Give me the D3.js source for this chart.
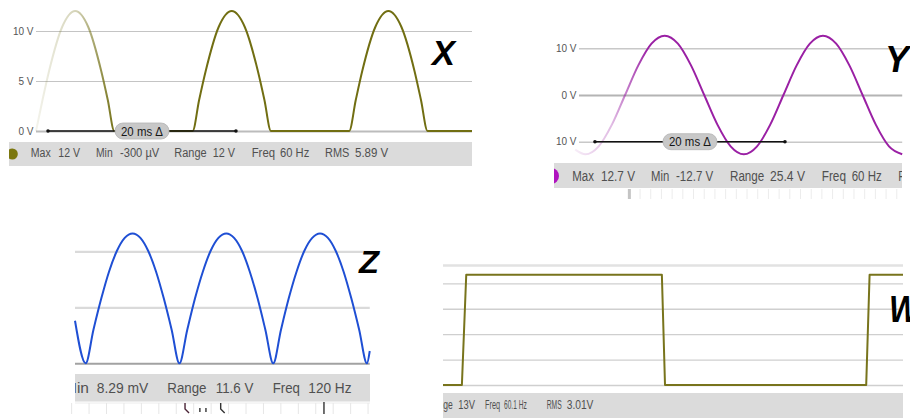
<!DOCTYPE html>
<html>
<head>
<meta charset="utf-8">
<script src="https://cdn.jsdelivr.net/npm/d3@7"></script>
<style>
body { margin: 0; background: #fff; }
svg { display: block; font-family: "Liberation Sans", Arial, sans-serif; }
</style>
</head>
<body>
<svg id="chart"></svg>
<script>
// ---- data: [time ms, volts]
const xWave = [
  [0,0],[0.69,3.1],[1.39,6],[2.78,10.4],[4.17,12],[5.56,10.4],[6.94,6],[7.64,3.1],[8.33,0],
  [16.67,0],[17.36,3.1],[18.06,6],[19.44,10.4],[20.83,12],[22.22,10.4],[23.61,6],[24.31,3.1],[25.0,0],
  [33.33,0],[34.03,3.1],[34.72,6],[36.11,10.4],[37.5,12],[38.89,10.4],[40.28,6],[40.97,3.1],[41.67,0],
  [46.4,0]
];
const yWave = [
  [-0.4,-11.7],[0.68,-12.7],[2.07,-11.0],[3.46,-6.35],[4.85,0],[6.24,6.35],[7.63,11.0],[9.02,12.7],
  [10.41,11.0],[11.79,6.35],[13.18,0],[14.57,-6.35],[15.96,-11.0],[17.35,-12.7],[18.74,-11.0],
  [20.13,-6.35],[21.52,0],[22.91,6.35],[24.3,11.0],[25.68,12.7],[27.07,11.0],[28.46,6.35],
  [29.85,0],[31.24,-6.35],[32.63,-11.0],[34.02,-12.7]
];
const zWave = [
  [0,3.8],[0.95,0],[1.64,3.0],[2.34,5.8],[3.03,8.2],[3.73,10.05],[4.42,11.2],[5.12,11.6],
  [5.81,11.2],[6.5,10.05],[7.2,8.2],[7.89,5.8],[8.59,3.0],[9.28,0],[9.98,3.0],[10.67,5.8],
  [11.37,8.2],[12.06,10.05],[12.75,11.2],[13.45,11.6],[14.14,11.2],[14.84,10.05],[15.53,8.2],
  [16.23,5.8],[16.92,3.0],[17.62,0],[18.31,3.0],[19.0,5.8],[19.7,8.2],[20.39,10.05],[21.09,11.2],
  [21.78,11.6],[22.48,11.2],[23.17,10.05],[23.87,8.2],[24.56,5.8],[25.26,3.0],[25.95,0],[26.2,1.1]
];
const wWave = [[0,0],[0.78,0],[0.96,13],[9.04,13],[9.17,0],[17.48,0],[17.62,13],[19.0,13]];

const xGrid = [0, 5, 10], xGridLabels = ["0 V", "5 V", "10 V"];
const yGrid = [-10, 0, 10], yGridLabels = ["10 V", "0 V", "10 V"];
const zGrid = [0, 5, 10];
const wGrid = [0, 3, 6, 9, 12, 14.16];

const xStatLabels = ["Max", "Min", "Range", "Freq", "RMS"];
const xStatValues = ["12 V", "-300 µV", "12 V", "60 Hz", "5.89 V"];
const yStatLabels = ["Max", "Min", "Range", "Freq", "RMS"];
const yStatValues = ["12.7 V", "-12.7 V", "25.4 V", "60 Hz"];
const zStatLabels = ["Min", "Range", "Freq"];
const zStatValues = ["8.29 mV", "11.6 V", "120 Hz"];
const wStatLabels = ["Range", "Freq", "RMS"];
const wStatValues = ["13V", "60.1 Hz", "3.01V"];

const markerSpanX = [1.28, 21.28], markerSpanY = [1.68, 21.68];
const markerText = "20 ms Δ";
const zCursorTimes = [9.78, 11.1, 11.64, 12.95, 22.13];

// ---- layout
const panels = [
  { id: "x", title: "X", wave: xWave, color: "#716e12", curve: d3.curveMonotoneX,
    xDomain: [0, 46.4], xRange: [36, 472], yDomain: [0, 10], yRange: [131, 31],
    grid: xGrid, gridLabels: xGridLabels, labelSize: 12.5,
    gridStyle: d => d === 0 ? ["#bcbcbc", 1.8] : ["#c4c4c4", 1.2],
    fade: [36, 116], marker: markerSpanX, markerLevel: 0,
    bar: [9, 142, 463, 24], dot: [12.3, 154, 5.5, "#7b770e"], fs: 13.5, base: 157.3,
    labels: xStatLabels, values: xStatValues,
    labelPos: [[30.7,20],[96,16.7],[174.3,32.3],[251.7,23.3],[325,24.3]],
    valuePos: [[58.3,21.7],[120,39.3],[212.7,22.3],[280,29.3],[355,33.3]],
    letter: [432, 64.5, 36, 23] },
  { id: "y", title: "Y", wave: yWave, color: "#9a20a4", curve: d3.curveMonotoneX,
    xDomain: [0, 34.02], xRange: [579, 902.2], yDomain: [-10, 10], yRange: [141.7, 48.3],
    grid: yGrid, gridLabels: yGridLabels, labelSize: 12.5,
    gridStyle: d => d === 0 ? ["#b4b4b4", 2.2] : ["#c8c8c8", 1.4],
    fade: [575, 648], marker: markerSpanY, markerLevel: -10,
    bar: [554, 163, 348, 25], dot: [551, 176, 8, "#b012bf"], fs: 14.5, base: 181,
    labels: yStatLabels, values: yStatValues,
    labelPos: [[572.3,21.7],[651,18.3],[730,34.3],[821.7,24.3],[898.3,24.3]],
    valuePos: [[601,34],[676,37.3],[770,35],[851.7,30]],
    letter: [885, 71.5, 37, 24] },
  { id: "z", title: "Z", wave: zWave, color: "#1f4fd4", curve: d3.curveMonotoneX,
    xDomain: [0, 26.2], xRange: [75, 369.75], yDomain: [0, 10], yRange: [363.3, 251.3],
    grid: zGrid, gridStyle: d => d === 0 ? ["#a2a2a2", 2] : ["#dadada", 2.2],
    bar: [75, 374, 295, 27.7], fs: 14.5, base: 393.3,
    labels: zStatLabels, values: zStatValues,
    labelPos: [[64,25],[167.3,39.3],[272.7,27.3]],
    valuePos: [[96.7,51.7],[215.7,37.7],[308.3,43.3]],
    letter: [359, 273.3, 32, 20] },
  { id: "w", title: "W", wave: wWave, color: "#78741c", curve: d3.curveLinear,
    xDomain: [0, 19.0], xRange: [443, 903], yDomain: [0, 12], yRange: [385, 283.3],
    grid: wGrid, gridStyle: d => d > 13 ? ["#e2e2e2", 2.6] : ["#cfcfcf", 1.3],
    bar: [443, 393, 460, 30], fs: 13, base: 409,
    labels: wStatLabels, values: wStatValues,
    labelPos: [[427.5,25.2],[485,15],[546.7,15]],
    valuePos: [[458.3,16.7],[504,22.7],[566.7,26.7]],
    letter: [889, 321.7, 37, 30] }
];

const svg = d3.select("#chart").attr("width", 910).attr("height", 418);
const defs = svg.append("defs");

// squeeze a text horizontally so it spans exactly `w` pixels
function fitText(sel, txt, x, y, w) {
  sel.text(txt);
  const nat = sel.node().getComputedTextLength() || w;
  sel.attr("transform", `translate(${x},${y}) scale(${w / nat},1)`);
  return sel;
}

function drawPanel(p) {
  const g = svg.append("g").attr("class", "panel-" + p.id);
  const x = d3.scaleLinear().domain(p.xDomain).range(p.xRange);
  const y = d3.scaleLinear().domain(p.yDomain).range(p.yRange);
  p.xScale = x;

  // gridlines + tick labels
  const axis = d3.axisLeft(y)
    .tickValues(p.grid)
    .tickSize(-(p.xRange[1] - p.xRange[0]))
    .tickPadding(2.5)
    .tickFormat((d, i) => p.gridLabels ? p.gridLabels[i] : "");
  const ag = g.append("g")
    .attr("transform", `translate(${p.xRange[0]},0)`)
    .attr("font-family", null).attr("font-size", p.labelSize || 12)
    .call(axis);
  ag.select(".domain").remove();
  ag.selectAll(".tick line")
    .attr("stroke", d => p.gridStyle(d)[0])
    .attr("stroke-width", d => p.gridStyle(d)[1]);
  ag.selectAll(".tick text").attr("fill", "#555");

  // trace
  let stroke = p.color;
  if (p.fade) {
    const grad = defs.append("linearGradient").attr("id", "fade-" + p.id)
      .attr("gradientUnits", "userSpaceOnUse")
      .attr("x1", p.fade[0]).attr("x2", p.fade[1]).attr("y1", 0).attr("y2", 0);
    grad.append("stop").attr("offset", 0).attr("stop-color", p.color).attr("stop-opacity", 0.08);
    grad.append("stop").attr("offset", 0.5).attr("stop-color", p.color).attr("stop-opacity", 0.3);
    grad.append("stop").attr("offset", 1).attr("stop-color", p.color).attr("stop-opacity", 1);
    stroke = `url(#fade-${p.id})`;
  }
  const line = d3.line().x(d => x(d[0])).y(d => y(d[1])).curve(p.curve);
  g.append("path").datum(p.wave)
    .attr("d", line)
    .attr("fill", "none")
    .attr("stroke", stroke)
    .attr("stroke-width", 2)
    .attr("stroke-linejoin", "round");

  // 20 ms delta marker
  if (p.marker) {
    const mx0 = x(p.marker[0]), mx1 = x(p.marker[1]), my = y(p.markerLevel);
    const mg = g.append("g");
    mg.append("line").attr("x1", mx0).attr("x2", mx1).attr("y1", my).attr("y2", my)
      .attr("stroke", "#111").attr("stroke-width", 1.5);
    mg.selectAll("circle").data([mx0, mx1]).join("circle")
      .attr("cx", d => d).attr("cy", my).attr("r", 1.8).attr("fill", "#111");
    const cx = (mx0 + mx1) / 2;
    mg.append("rect").attr("x", cx - 27).attr("y", my - 8).attr("width", 54).attr("height", 16)
      .attr("rx", 8).attr("fill", "#c8c8c8").attr("stroke", "#b4b4b4").attr("stroke-width", 0.8);
    fitText(mg.append("text").attr("font-size", 13.5).attr("fill", "#161616"),
      markerText, cx - 21, my + 4.5, 42);
  }

  // stats bar
  const [bx, by, bw, bh] = p.bar;
  defs.append("clipPath").attr("id", "clip-" + p.id)
    .append("rect").attr("x", bx).attr("y", by).attr("width", bw).attr("height", bh);
  const sb = g.append("g").attr("clip-path", `url(#clip-${p.id})`);
  sb.append("rect").attr("x", bx).attr("y", by).attr("width", bw).attr("height", bh)
    .attr("fill", "#dbdbdb");
  if (p.dot) {
    sb.append("circle").attr("cx", p.dot[0]).attr("cy", p.dot[1]).attr("r", p.dot[2])
      .attr("fill", p.dot[3]);
  }
  const addText = (txt, pos) =>
    fitText(sb.append("text").attr("font-size", p.fs).attr("fill", "#505050"),
      txt, pos[0], p.base, pos[1]);
  p.labels.forEach((t, i) => addText(t, p.labelPos[i]));
  p.values.forEach((t, i) => addText(t, p.valuePos[i]));

  // big channel letter
  fitText(g.append("text")
    .attr("font-size", p.letter[2]).attr("font-weight", "bold").attr("font-style", "italic")
    .attr("fill", "#000"), p.title, p.letter[0], p.letter[1], p.letter[3]);
}

panels.forEach(drawPanel);

// faint timebase ticks under the Y and Z bars
const py = panels[1], pz = panels[2];
const yTicks = d3.range(5.3, 34.1, 1.126);
svg.append("g").selectAll("line").data(yTicks).join("line")
  .attr("x1", d => py.xScale(d)).attr("x2", d => py.xScale(d))
  .attr("y1", 189).attr("y2", 199)
  .attr("stroke", (d, i) => i === 0 ? "#c4c4c4" : "#ececec")
  .attr("stroke-width", (d, i) => i === 0 ? 3 : 1);

const zTicks = d3.range(-0.3, 26.3, 1.55);
const zt = svg.append("g");
zt.append("line").attr("x1", 75).attr("x2", 370).attr("y1", 403).attr("y2", 403)
  .attr("stroke", "#ececec").attr("stroke-width", 1);
zt.selectAll("line.t").data(zTicks).join("line").attr("class", "t")
  .attr("x1", d => pz.xScale(d)).attr("x2", d => pz.xScale(d))
  .attr("y1", 403).attr("y2", 414)
  .attr("stroke", "#e6e6e6").attr("stroke-width", 1);
zt.selectAll("path.c").data(zCursorTimes).join("path").attr("class", "c")
  .attr("d", (d, i) => {
    const cx = pz.xScale(d);
    if (i === 0 || i === 3) return `M${cx},403 L${cx},409 L${cx + 4},413`;
    if (i === 4) return `M${cx},402 L${cx},414`;
    return `M${cx},408 L${cx},412`;
  })
  .attr("fill", "none").attr("stroke", (d, i) => i === 0 ? "#4a2436" : "#333")
  .attr("stroke-width", 1.4);
</script>
</body>
</html>
